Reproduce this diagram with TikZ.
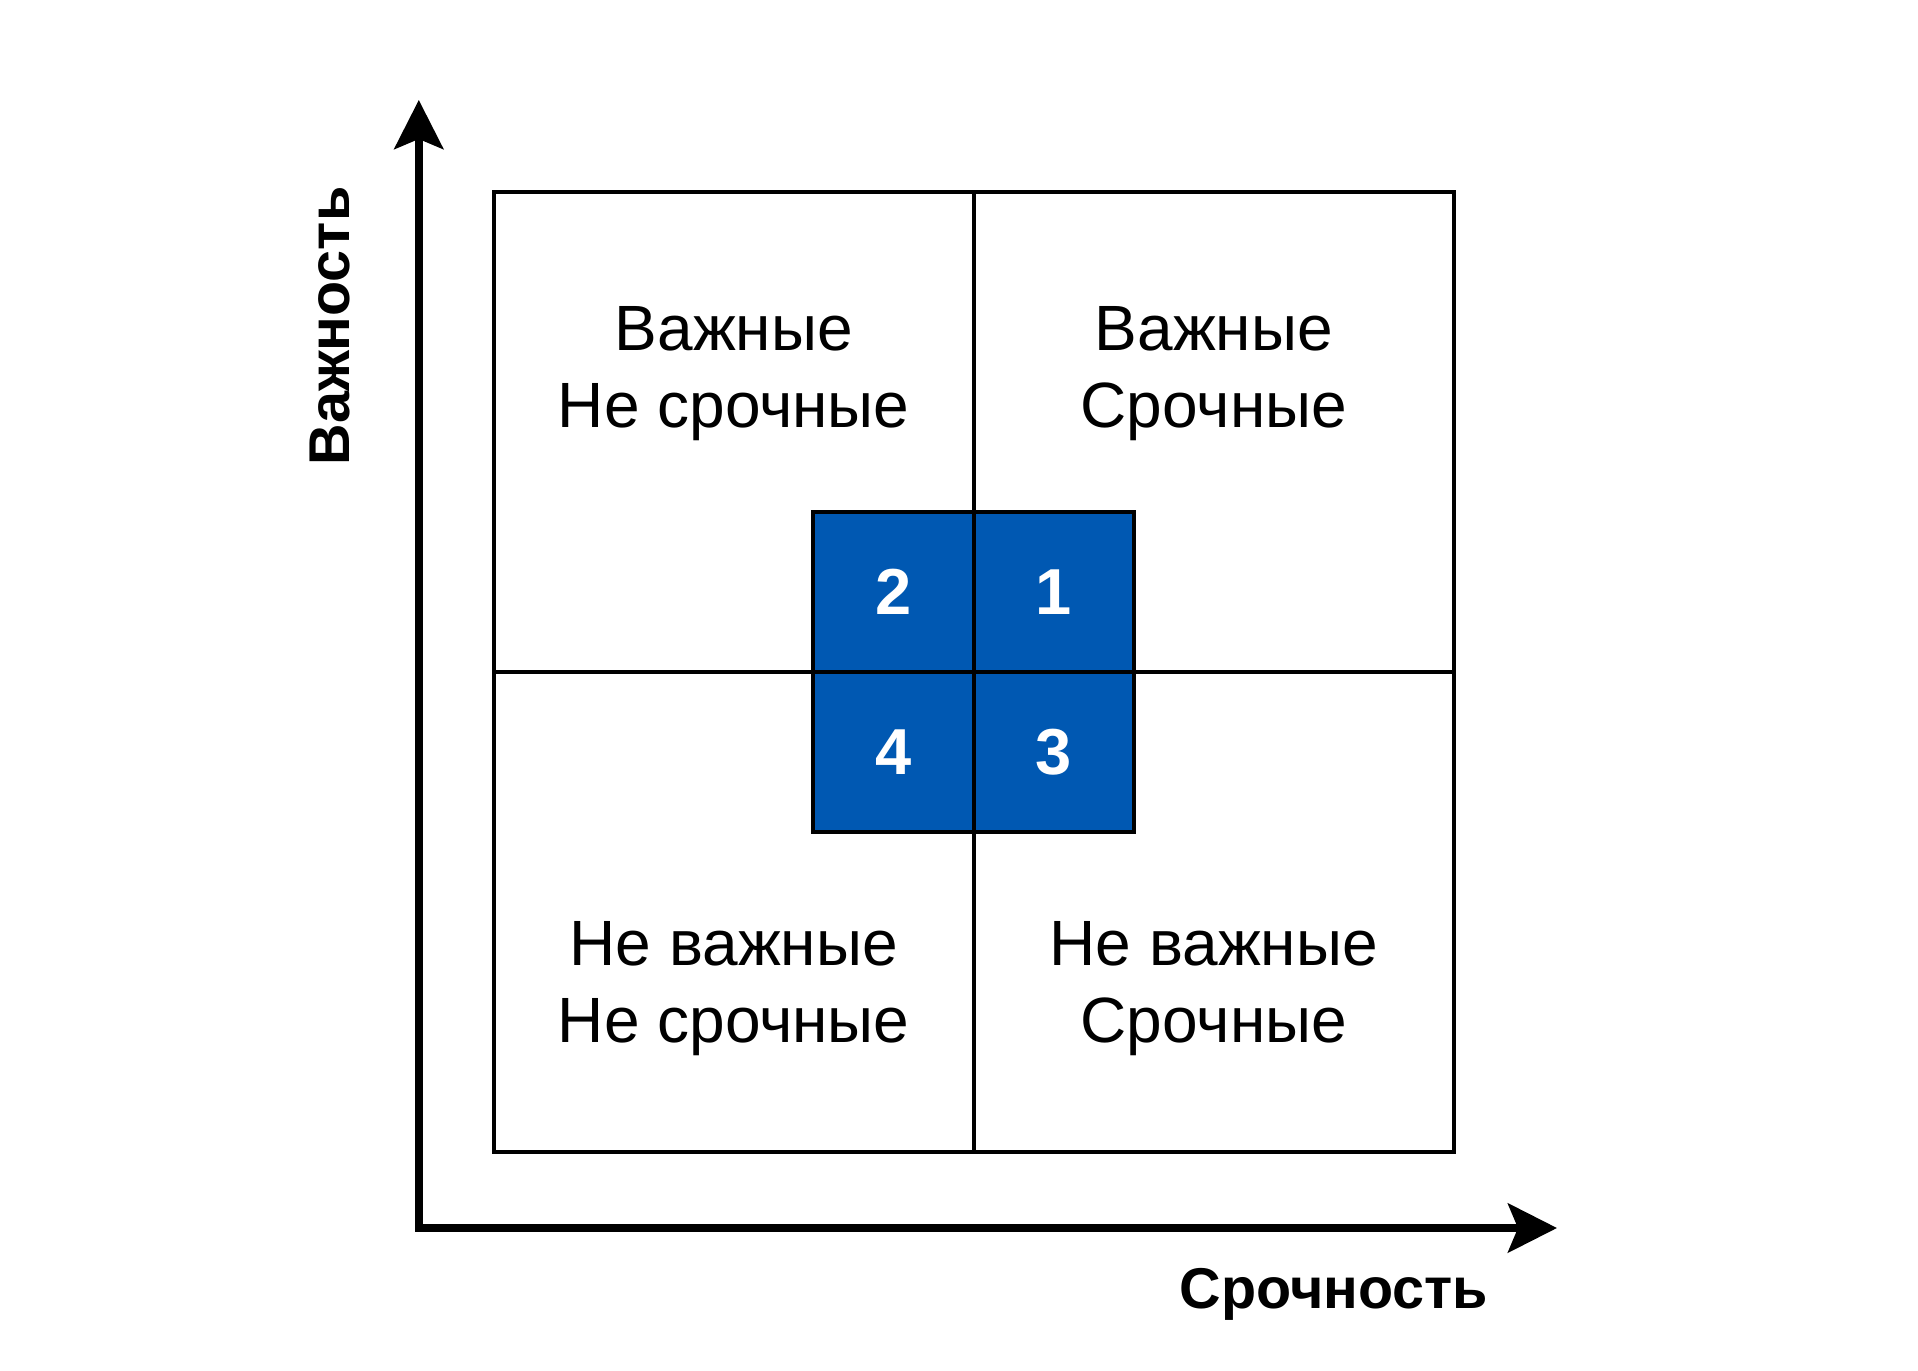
\documentclass[tikz,border=0pt]{standalone}
\usepackage{fontspec}
\setmainfont{Liberation Sans}
\usetikzlibrary{arrows.meta, positioning}
\definecolor{matrixblue}{RGB}{0,88,178}
\tikzstyle{quadrant} = [
  rectangle, draw, line width=4pt, minimum size=480pt,
  inner sep=0pt, outer sep=0pt
]
\tikzstyle{axis} = [line width=7.7pt, {Stealth[length=49pt, width=49pt, inset=10pt]}-{Stealth[length=49pt, width=49pt, inset=10pt]}]

\begin{document}
\begin{tikzpicture}[x=1pt, y=-1pt]
\useasboundingbox (0,0) rectangle (1918,1370);

\tikzstyle{quadtext} = [inner sep=0pt, align=center, font=\fontsize{64}{77}\selectfont]
\tikzstyle{prionode} = [rectangle, draw, line width=4pt, fill=matrixblue, text=white, minimum size=160.3pt, inner sep=0pt, outer sep=0pt, font=\bfseries\fontsize{65}{65}\selectfont]
\tikzstyle{axislabel} = [inner sep=0pt, anchor=base, font=\bfseries\fontsize{57.5}{57.5}\selectfont]

% Quadrants
\node (impNotUrg) [quadrant] at (733.75,432) {};
\node (impUrg) [quadrant, right=0pt of impNotUrg] {};
\node (notImpNotUrg) [quadrant, below=0pt of impNotUrg] {};
\node (notImpUrg) [quadrant, right=0pt of notImpNotUrg] {};

\node (txtImpNotUrg) [quadtext, below=114pt of impNotUrg.north] {Важные\\Не срочные};
\node (txtImpUrg) [quadtext, below=114pt of impUrg.north] {Важные\\Срочные};
\node (txtNotImpNotUrg) [quadtext, below=249pt of notImpNotUrg.north] {Не важные\\Не срочные};
\node (txtNotImpUrg) [quadtext, below=249pt of notImpUrg.north] {Не важные\\Срочные};

% Priority squares
\node (prio2) [prionode] at (893.4,592) {2};
\node (prio1) [prionode, right=0pt of prio2] {1};
\node (prio4) [prionode, below=0pt of prio2] {4};
\node (prio3) [prionode, right=0pt of prio4] {3};

% Axes
\coordinate (origin) at (418.8,1228);
\coordinate (ytip) at (418.8,100);
\coordinate (xtip) at (1557,1228);
\draw [axis] (ytip) -- (origin) -- (xtip);

\node (importance) [axislabel, rotate=90] at (349.5,326) {Важность};
\node (urgency) [axislabel] at (1334,1308) {Срочность};

\end{tikzpicture}
\end{document}
